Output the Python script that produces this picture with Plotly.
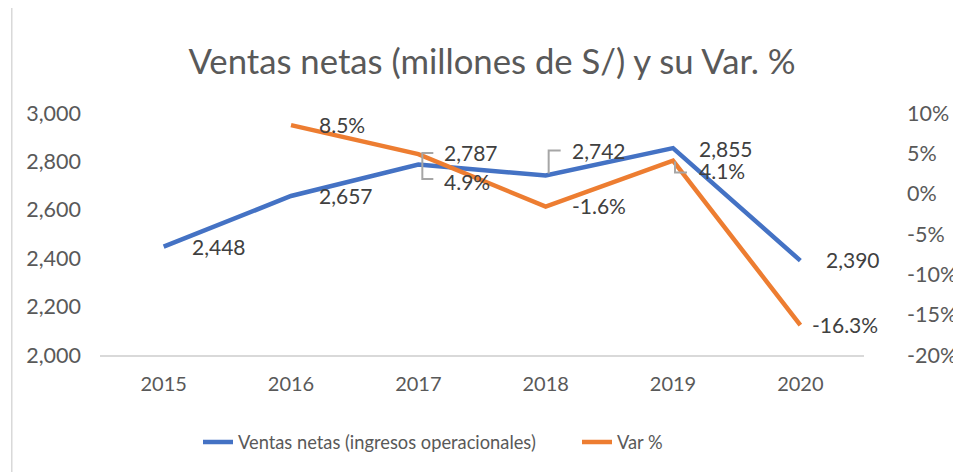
import plotly.graph_objects as go

years = [2015, 2016, 2017, 2018, 2019, 2020]
ventas = [2448, 2657, 2787, 2742, 2855, 2390]
var_years = [2016, 2017, 2018, 2019, 2020]
var_pct = [0.085, 0.049, -0.016, 0.041, -0.163]
pct_ticks = [-0.20, -0.15, -0.10, -0.05, 0.0, 0.05, 0.10]

ventas_labels = [f"{v:,.0f}" for v in ventas]
var_labels = [f"{v*100:.1f}%" for v in var_pct]
pct_tick_labels = [f"{round(v*100):d}%" for v in pct_ticks]

BLUE = "#4472C4"
ORANGE = "#ED7D31"
TXT = "#595959"
LBL = "#404040"
FONT = "Lato"
W, H = 961, 472
OFF = 8  # page body margin

fig = go.Figure()
fig.add_trace(go.Scatter(x=years, y=ventas, mode="lines", name="Ventas netas (ingresos operacionales)",
                         line=dict(color=BLUE, width=4.5), yaxis="y"))
fig.add_trace(go.Scatter(x=var_years, y=var_pct, mode="lines", name="Var %",
                         line=dict(color=ORANGE, width=4.5), yaxis="y2"))

# label offsets (pixels): (xshift, yshift)
ventas_off = [(26, 0), (26, 1), (24, 12), (24, 25), (24, 0), (24, 1)]
var_off = [(26, 1), (24, -27), (24, 1), (24, -10), (10, 1)]

ann = []
for x, y, t, (dx, dy) in zip(years, ventas, ventas_labels, ventas_off):
    ann.append(dict(x=x, y=y, xref="x", yref="y", text=t, showarrow=False, xanchor="left",
                    yanchor="middle", xshift=dx, yshift=dy, font=dict(family=FONT, size=21, color=LBL)))
for x, y, t, (dx, dy) in zip(var_years, var_pct, var_labels, var_off):
    ann.append(dict(x=x, y=y, xref="x", yref="y2", text=t, showarrow=False, xanchor="left",
                    yanchor="middle", xshift=dx, yshift=dy, font=dict(family=FONT, size=21, color=LBL)))

GRAY = "#A6A6A6"
L, R, T, B = 100 - OFF, W - 888 + OFF, 113 - OFF, H - 355 + OFF
shapes = [
    dict(type="path", xref="x", yref="y", xsizemode="pixel", ysizemode="pixel",
         xanchor=years[2], yanchor=ventas[2], path="M 15,11.5 L 4,11.5 L 4,-14.5 L 15,-14.5",
         line=dict(color=GRAY, width=2)),
    dict(type="path", xref="x", yref="y", xsizemode="pixel", ysizemode="pixel",
         xanchor=years[3], yanchor=ventas[3], path="M 3,2 L 3,25 L 15,25",
         line=dict(color=GRAY, width=2)),
    dict(type="path", xref="x", yref="y2", xsizemode="pixel", ysizemode="pixel",
         xanchor=var_years[3], yanchor=var_pct[3], path="M 2,-1 L 2,-12 L 14,-12",
         line=dict(color=GRAY, width=2)),
    dict(type="line", xref="paper", yref="paper", x0=(1 - L) / (W - L - R), x1=(1 - L) / (W - L - R),
         y0=-2, y1=3, line=dict(color="#D9D9D9", width=1.5)),
]

fig.update_layout(
    width=W, height=H,
    margin=dict(l=L, r=R, t=T, b=B),
    paper_bgcolor="white", plot_bgcolor="white",
    title=dict(text="Ventas netas (millones de S/) y su Var. %", x=(492 - OFF) / W, xref="container",
               xanchor="center", y=1 - (62 - OFF) / H, yref="container", yanchor="middle",
               font=dict(family=FONT, size=34.7, color=TXT)),
    showlegend=True,
    legend=dict(orientation="h", x=(577 - OFF) / W, xanchor="center", xref="container",
                y=1 - (442 - OFF) / H, yref="container", yanchor="middle",
                font=dict(family=FONT, size=18.3, color=TXT), traceorder="normal",
                entrywidth=334, entrywidthmode="pixels"),
    annotations=ann,
    shapes=shapes,
    xaxis=dict(range=[2014.5, 2020.5], tickvals=years, ticktext=[str(y) for y in years],
               showgrid=False, showline=True, linecolor="#D9D9D9", linewidth=1.5,
               ticks="", tickfont=dict(family=FONT, size=20, color=TXT), ticklabelstandoff=10,
               zeroline=False),
    yaxis=dict(range=[2000, 3000], dtick=200, tickformat=",.0f", showgrid=False, zeroline=False,
               showline=False, ticks="", tickfont=dict(family=FONT, size=21.5, color=TXT),
               ticklabelstandoff=18),
    yaxis2=dict(range=[-0.2, 0.1], tickvals=pct_ticks, ticktext=pct_tick_labels, overlaying="y",
                side="right", showgrid=False, zeroline=False, showline=False, ticks="",
                tickfont=dict(family=FONT, size=21.5, color=TXT), ticklabelstandoff=42),
)

fig.write_html("out.html")
